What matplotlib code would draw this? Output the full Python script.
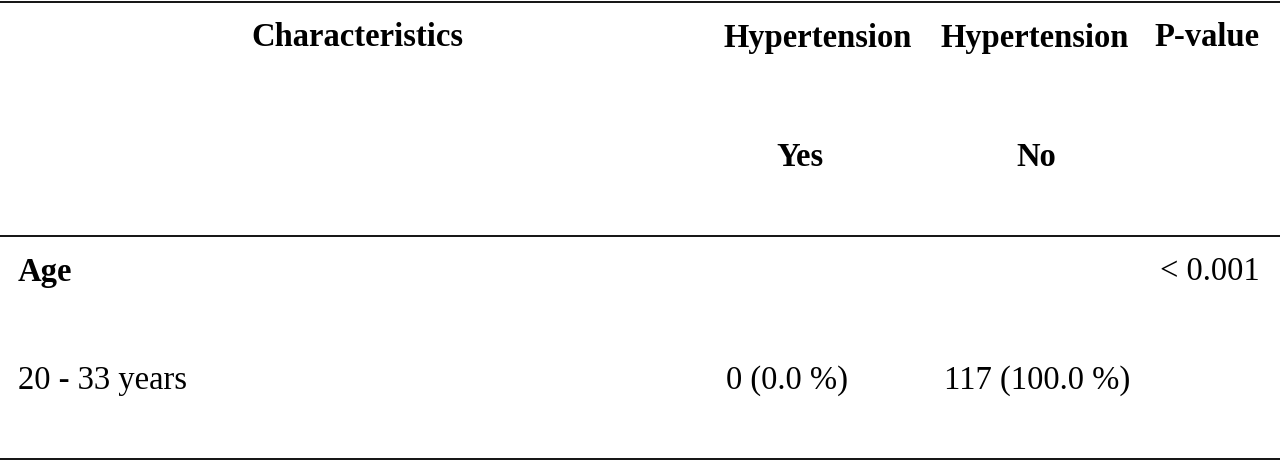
import matplotlib
matplotlib.use("Agg")
import matplotlib.pyplot as plt

headers = ["Characteristics", "Hypertension", "Hypertension", "P-value"]
subheaders = ["", "Yes", "No", ""]
section = "Age"
section_p = "< 0.001"
row_label = "20 - 33 years"
yes_vals = ["0 (0.0 %)"]
no_vals = ["117 (100.0 %)"]

plt.rcParams['font.family'] = ['Liberation Serif', 'DejaVu Serif']
fig = plt.figure(figsize=(12.8, 4.62), dpi=100)
ax = fig.add_axes([0, 0, 1, 1])
ax.set_xlim(0, 1280)
ax.set_ylim(462, 0)
ax.axis('off')

fs = 23.5
for x, h in zip([357, 818, 1035, 1207], headers):
    ax.text(x, 38, h, ha='center', va='center', fontsize=fs, fontweight='bold')
for x, h in zip([357, 800, 1036, 1207], subheaders):
    if h:
        ax.text(x, 158, h, ha='center', va='center', fontsize=fs, fontweight='bold')

ax.text(18, 272, section, ha='left', va='center', fontsize=fs, fontweight='bold')
ax.text(1160, 272, section_p, ha='left', va='center', fontsize=fs)
ax.text(18, 381, row_label, ha='left', va='center', fontsize=fs)
ax.text(726, 381, yes_vals[0], ha='left', va='center', fontsize=fs)
ax.text(944, 381, no_vals[0], ha='left', va='center', fontsize=fs)

for y in [2, 236, 459]:
    ax.plot([0, 1280], [y, y], color='black', lw=1.3)

fig.savefig("out.png", dpi=100)
